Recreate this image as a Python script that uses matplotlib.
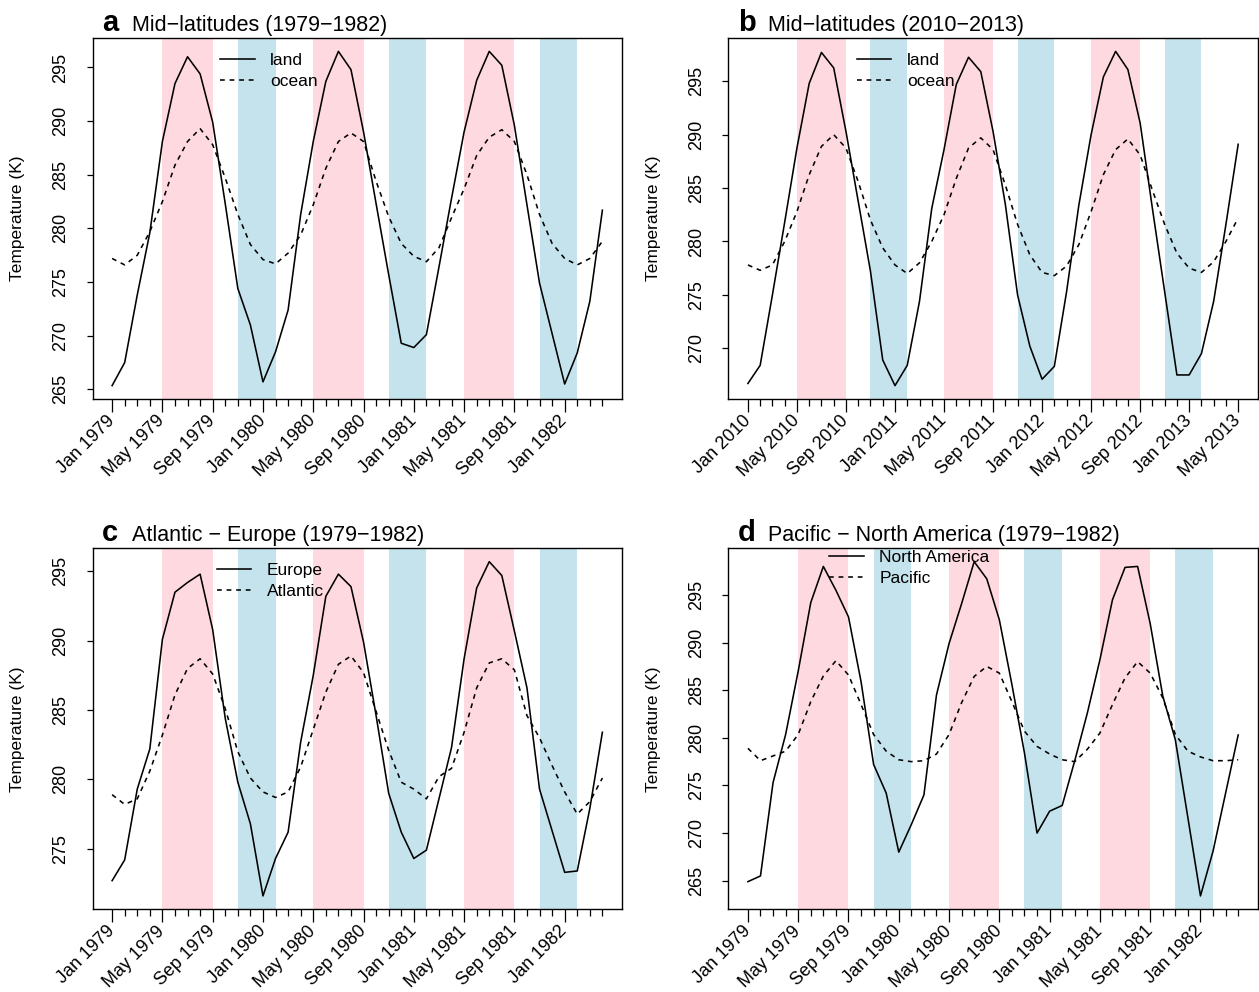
import numpy as np
import pandas as pd
import matplotlib
matplotlib.use("Agg")
import matplotlib.pyplot as plt

plt.rcParams["font.family"] = ["Liberation Sans", "DejaVu Sans"]

# monthly mean temperatures (K)
# a: mid-latitudes, Jan 1979 - Apr 1982
land_a = [265.35, 267.5, 273.8, 279.6, 288.1, 293.5, 296.0, 294.4, 289.9, 282.3,
          274.4, 271.0, 265.7, 268.5, 272.4, 281.3, 288.1, 293.7, 296.5, 294.8,
          289.0, 282.3, 275.7, 269.3, 268.9, 270.1, 276.4, 282.8, 289.0, 293.8,
          296.5, 295.2, 289.6, 282.2, 274.9, 270.2, 265.5, 268.4, 273.2, 281.7]
ocean_a = [277.2, 276.6, 277.5, 279.7, 282.5, 285.9, 288.1, 289.3, 287.8, 284.7,
           281.3, 278.5, 277.1, 276.7, 277.7, 279.4, 282.2, 285.6, 288.1, 288.9,
           288.1, 284.4, 281.1, 278.6, 277.4, 276.9, 278.2, 281.0, 283.7, 286.8,
           288.5, 289.2, 288.1, 285.0, 281.3, 278.6, 277.2, 276.6, 277.2, 278.8]

# b: mid-latitudes, Jan 2010 - May 2013
land_b = [266.7, 268.4, 275.0, 281.8, 288.75, 294.8, 297.7, 296.25, 290.3, 283.75,
          277.2, 268.9, 266.5, 268.4, 274.4, 283.1, 288.6, 294.7, 297.25, 295.9,
          290.3, 283.5, 275.0, 270.2, 267.1, 268.3, 275.3, 283.4, 290.0, 295.4,
          297.8, 296.1, 291.1, 283.1, 275.3, 267.5, 267.5, 269.5, 274.4, 281.6, 289.1]
ocean_b = [277.8, 277.3, 277.8, 280.0, 282.8, 286.25, 288.9, 290.0, 288.75, 285.6,
           282.0, 279.4, 277.8, 277.0, 278.0, 280.0, 282.5, 285.9, 288.75, 289.7,
           288.6, 285.3, 281.6, 278.75, 277.1, 276.8, 277.7, 279.7, 282.8, 286.25,
           288.6, 289.6, 288.1, 284.8, 281.6, 278.9, 277.5, 277.1, 278.1, 280.0, 282.2]

# c: Atlantic - Europe, Jan 1979 - Apr 1982
land_c = [272.7, 274.2, 279.3, 282.2, 290.1, 293.5, 294.2, 294.8, 290.8, 284.4,
          279.8, 276.8, 271.6, 274.3, 276.2, 282.7, 287.5, 293.2, 294.8, 293.9,
          289.9, 284.6, 279.0, 276.2, 274.3, 274.9, 278.6, 282.3, 288.7, 293.8,
          295.7, 294.7, 290.7, 286.6, 279.3, 276.3, 273.3, 273.4, 277.9, 283.4]
ocean_c = [278.9, 278.2, 278.6, 280.6, 283.2, 286.1, 288.0, 288.7, 287.6, 285.1,
           282.0, 280.1, 279.1, 278.7, 279.1, 280.9, 283.6, 286.3, 288.3, 288.9,
           287.7, 284.9, 282.1, 279.8, 279.3, 278.6, 280.2, 280.8, 283.4, 286.6,
           288.4, 288.7, 287.9, 284.6, 283.0, 281.0, 279.1, 277.5, 278.4, 280.1]

# d: Pacific - North America, Jan 1979 - Apr 1982
land_d = [264.9, 265.5, 275.3, 280.35, 287.0, 294.2, 298.0, 295.5, 292.7, 285.9,
          277.2, 274.2, 268.0, 270.9, 274.0, 284.5, 289.9, 294.1, 298.5, 296.7,
          292.4, 285.6, 278.4, 270.0, 272.3, 272.9, 277.6, 282.6, 288.2, 294.5,
          297.9, 298.0, 292.0, 284.4, 279.8, 271.6, 263.4, 268.1, 274.2, 280.3]
ocean_d = [278.9, 277.6, 278.1, 278.6, 280.35, 283.8, 286.5, 288.1, 286.6, 283.5,
           280.35, 278.6, 277.7, 277.5, 277.6, 278.3, 280.35, 283.7, 286.45, 287.5,
           286.8, 283.8, 280.7, 279.1, 278.3, 277.7, 277.5, 278.8, 280.5, 283.5,
           286.3, 288.0, 286.8, 284.2, 280.35, 278.6, 278.0, 277.6, 277.6, 277.7]

panels = [
    ("a", "Mid\u2212latitudes (1979\u22121982)", "1979-01", land_a, ocean_a, ["land", "ocean"]),
    ("b", "Mid\u2212latitudes (2010\u22122013)", "2010-01", land_b, ocean_b, ["land", "ocean"]),
    ("c", "Atlantic \u2212 Europe (1979\u22121982)", "1979-01", land_c, ocean_c, ["Europe", "Atlantic"]),
    ("d", "Pacific \u2212 North America (1979\u22121982)", "1979-01", land_d, ocean_d, ["North America", "Pacific"]),
]

# axes boxes in pixels (left, top) of a 1259x992 figure, box 529.5 x 361
W, H = 1259, 992
boxes = [(92.5, 38), (728.3, 38), (92.5, 548.3), (728.3, 548.3)]
legend_pos = [(0.2408, 0.909), (0.2424, 0.909), (0.2346, 0.9098), (0.190, 0.9454)]

pink = "#FFD9E0"
blue = "#C4E3EC"

fig = plt.figure(figsize=(W / 100, H / 100), dpi=100)

for (letter, title, start, land, ocean, labels), (bx, by), lpos in zip(panels, boxes, legend_pos):
    ax = fig.add_axes([bx / W, 1 - (by + 361) / H, 529.5 / W, 361 / H])
    n = len(land)
    dates = pd.date_range(start, periods=n, freq="MS")
    x = np.arange(n)

    # summer (May-Sep) and winter (Nov-Feb) shading
    for i, d in enumerate(dates):
        if d.month == 5 and i + 4 < n:
            ax.axvspan(i, i + 4, color=pink, lw=0, zorder=0)
        if d.month == 11 and i + 3 < n:
            ax.axvspan(i, i + 3, color=blue, lw=0, zorder=0)

    ax.plot(x, land, color="black", lw=1.15, label=labels[0])
    ax.plot(x, ocean, color="black", lw=1.15, dashes=(3, 3), label=labels[1])

    ax.margins(x=0.04, y=0.04)
    ax.yaxis.set_major_locator(plt.MultipleLocator(5))
    major = x[::4]
    ax.set_xticks(major)
    ax.set_xticklabels([dates[i].strftime("%b %Y") for i in major])
    ax.set_xticks(x, minor=True)
    for lab in ax.get_xticklabels():
        lab.set_rotation(45)
        lab.set_ha("right")
        lab.set_va("center")
        lab.set_rotation_mode("anchor")
    ax.tick_params(axis="x", which="major", length=9, width=0.9, pad=5, labelsize=13)
    ax.tick_params(axis="x", which="minor", length=5, width=0.9)
    ax.tick_params(axis="y", length=4.6, width=0.9, pad=12, labelsize=13, labelrotation=90)
    for lab in ax.get_yticklabels():
        lab.set_va("center")
    for sp in ax.spines.values():
        sp.set_linewidth(1.0)

    ax.set_ylabel("Temperature (K)", fontsize=12.5)
    ax.yaxis.set_label_coords(-0.1275, 0.5)

    ax.legend(loc="center left", bbox_to_anchor=lpos, frameon=False, borderpad=0,
              borderaxespad=0, handlelength=2.0, handletextpad=0.9,
              labelspacing=0.3, fontsize=12.5)

    ty = 1 - (by - 7.3) / H
    fig.text((bx + 9.5) / W, ty, letter, fontsize=21, fontweight="bold", va="baseline")
    fig.text((bx + 40) / W, ty, title, fontsize=15.5, va="baseline")

fig.savefig("out.png", dpi=100)
